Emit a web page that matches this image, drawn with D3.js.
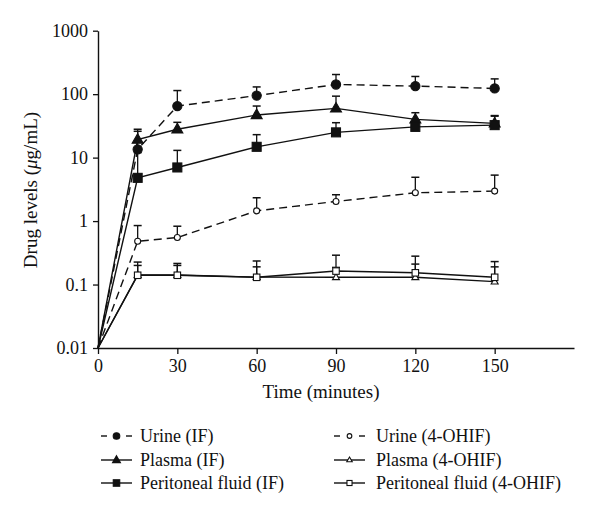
<!DOCTYPE html>
<html><head><meta charset="utf-8">
<script src="https://cdn.jsdelivr.net/npm/d3@7"></script>
<style>body{margin:0;background:#fff}svg{display:block}text{font-family:"Liberation Serif","Times New Roman",serif;fill:#111}</style>
</head><body><svg id="c" width="600" height="516"></svg>
<script>
const times = [0, 15, 30, 60, 90, 120, 150];
const xTicks = [0, 30, 60, 90, 120, 150];
const yTicks = [0.01, 0.1, 1, 10, 100, 1000];
const yTickLabels = ["0.01", "0.1", "1", "10", "100", "1000"];

const urineIF = [0.01, 13.5, 65, 95, 142, 134, 123];
const urineIFErr = [null, 26, 114, 130, 204, 190, 174];
const plasmaIF = [0.01, 19.2, 28, 47, 59.6, 40, 34.6];
const plasmaIFErr = [null, 28, 36, 65, 93, 51, 45];
const periIF = [0.01, 4.8, 7.0, 14.8, 25, 30.5, 32.5];
const periIFErr = [null, 12, 13, 23, 35.5, 36, 46];
const urineOH = [0.01, 0.48, 0.55, 1.45, 2.04, 2.79, 2.97];
const urineOHErr = [null, 0.85, 0.83, 2.33, 2.6, 4.9, 5.3];
const plasmaOH = [0.01, 0.141, 0.141, 0.131, 0.13, 0.13, 0.111];
const plasmaOHErr = [null, 0.2, 0.2, 0.19, 0.186, 0.21, 0.19];
const periOH = [0.01, 0.14, 0.14, 0.13, 0.163, 0.153, 0.13];
const periOHErr = [null, 0.226, 0.215, 0.235, 0.29, 0.28, 0.23];

const seriesNames = ["Urine (IF)", "Plasma (IF)", "Peritoneal fluid (IF)", "Urine (4-OHIF)", "Plasma (4-OHIF)", "Peritoneal fluid (4-OHIF)"];

const series = [
  {name: seriesNames[0], v: urineIF, e: urineIFErr, dash: true, shape: "circle", fill: true},
  {name: seriesNames[1], v: plasmaIF, e: plasmaIFErr, dash: false, shape: "triangle", fill: true},
  {name: seriesNames[2], v: periIF, e: periIFErr, dash: false, shape: "square", fill: true},
  {name: seriesNames[3], v: urineOH, e: urineOHErr, dash: true, shape: "circle", fill: false},
  {name: seriesNames[4], v: plasmaOH, e: plasmaOHErr, dash: false, shape: "triangle", fill: false},
  {name: seriesNames[5], v: periOH, e: periOHErr, dash: false, shape: "square", fill: false}
];

const svg = d3.select("#c");
const x = d3.scaleLinear().domain([0, 180]).range([98, 574]);
const y = d3.scaleLog().domain([0.01, 1000]).range([348, 30.7]);

const font = 18;
const gx = svg.append("g").attr("transform", `translate(0,${y(0.01)})`)
  .call(d3.axisBottom(x).tickValues(xTicks).tickSize(6).tickSizeOuter(0).tickPadding(5).tickFormat(d3.format("d")));
const gy = svg.append("g").attr("transform", `translate(${x(0)},0)`)
  .call(d3.axisLeft(y).tickValues(yTicks).tickSize(5).tickSizeOuter(0).tickPadding(5).tickFormat((d, i) => yTickLabels[i]));
[gx, gy].forEach(g => {
  g.selectAll("path.domain").attr("stroke", "#111").attr("stroke-width", 1.4);
  g.selectAll(".tick line").attr("stroke", "#111").attr("stroke-width", 1.3);
  g.selectAll("text").style("font-family", '"Liberation Serif",serif').style("font-size", font + "px").attr("fill", "#111");
});

svg.append("text").attr("x", 321).attr("y", 398).attr("text-anchor", "middle")
  .style("font-size", "19px").text("Time (minutes)");
const yl = svg.append("text").attr("transform", "translate(37,190) rotate(-90)").attr("text-anchor", "middle").style("font-size", "19px");
yl.append("tspan").text("Drug levels (");
yl.append("tspan").style("font-style", "italic").text("μ");
yl.append("tspan").text("g/mL)");

// k: size scale
function marker(g, shape, fill, cx, cy, k) {
  const f = fill ? "#111" : "#fff";
  if (shape === "circle") {
    g.append("circle").attr("cx", cx).attr("cy", cy).attr("r", (fill ? 4.6 : 3) * k)
      .attr("fill", f).attr("stroke", "#111").attr("stroke-width", 1.1);
  } else if (shape === "triangle") {
    const s = (fill ? 11 : 7) * k;
    const h = s * 0.87;
    g.append("path").attr("d", `M${cx},${cy - h * 0.62}L${cx + s / 2},${cy + h * 0.38}L${cx - s / 2},${cy + h * 0.38}Z`)
      .attr("fill", f).attr("stroke", "#111").attr("stroke-width", 1.1);
  } else {
    const s = (fill ? 9 : 6.5) * k;
    g.append("rect").attr("x", cx - s / 2).attr("y", cy - s / 2).attr("width", s).attr("height", s)
      .attr("fill", f).attr("stroke", "#111").attr("stroke-width", 1.1);
  }
}

const line = d3.line().x((d, i) => x(times[i])).y(d => y(d));
const plot = svg.append("g");
series.forEach(s => {
  s.e.forEach((t, i) => {
    if (t == null) return;
    plot.append("line").attr("x1", x(times[i])).attr("x2", x(times[i])).attr("y1", y(s.v[i])).attr("y2", y(t))
      .attr("stroke", "#111").attr("stroke-width", 1.3);
    plot.append("line").attr("x1", x(times[i]) - 4).attr("x2", x(times[i]) + 4).attr("y1", y(t)).attr("y2", y(t))
      .attr("stroke", "#111").attr("stroke-width", 1.5);
  });
});
series.forEach(s => {
  plot.append("path").attr("d", line(s.v)).attr("fill", "none").attr("stroke", "#111").attr("stroke-width", 1.4)
    .attr("stroke-dasharray", s.dash ? "8,5" : null);
});
series.forEach(s => {
  s.v.forEach((v, i) => { if (i > 0) marker(plot, s.shape, s.fill, x(times[i]), y(v), 1); });
});

const lg = svg.append("g");
const cols = [{sx: 101, tx: 140}, {sx: 334, tx: 376}];
const rowsY = [436, 460, 483];
series.forEach((s, k) => {
  const c = cols[Math.floor(k / 3)], ry = rowsY[k % 3];
  const w = 31;
  if (s.dash) {
    lg.append("line").attr("x1", c.sx).attr("x2", c.sx + 6).attr("y1", ry).attr("y2", ry).attr("stroke", "#111").attr("stroke-width", 1.4);
    lg.append("line").attr("x1", c.sx + w - 6).attr("x2", c.sx + w).attr("y1", ry).attr("y2", ry).attr("stroke", "#111").attr("stroke-width", 1.4);
  } else {
    lg.append("line").attr("x1", c.sx).attr("x2", c.sx + w).attr("y1", ry).attr("y2", ry).attr("stroke", "#111").attr("stroke-width", 1.4);
  }
  marker(lg, s.shape, s.fill, c.sx + w / 2, ry, s.fill ? 0.72 : 0.78);
  lg.append("text").attr("x", c.tx).attr("y", ry + 5.5).style("font-size", font + "px").text(s.name);
});
</script></body></html>
